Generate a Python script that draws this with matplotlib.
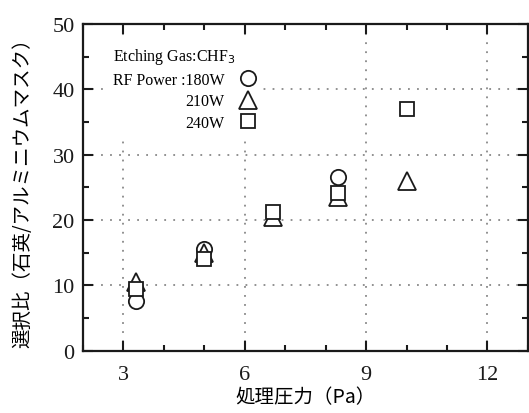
import matplotlib
matplotlib.use("Agg")
import matplotlib.pyplot as plt
from matplotlib.lines import Line2D
from matplotlib.ticker import MultipleLocator

# Process pressure (Pa) and etch selectivity (quartz / aluminium mask)
pressure = [3.3, 5.0, 6.7, 8.3, 10.0]
sel_180w = [7.6, 15.6, None, 26.6, None]
sel_210w = [10.5, 15.0, 20.5, 23.5, 26.0]
sel_240w = [9.4, 14.0, 21.2, 24.2, 37.0]

series = [
    ("RF Power :180W", "o", 11.0, sel_180w),
    ("210W", "^", 12.5, sel_210w),
    ("240W", "s", 10.5, sel_240w),
]

x_ticks = [3, 6, 9, 12]
y_ticks = [0, 10, 20, 30, 40, 50]

serif = "Liberation Serif"
cjk = ["Noto Sans CJK JP", "DejaVu Sans"]
ink = "#1a1a1a"

fig = plt.figure(figsize=(5.29, 4.14), dpi=100)
ax = fig.add_axes([0.157, 0.150, 0.841, 0.790])

for z, (label, marker, ms, values) in enumerate(series):
    xs = [p for p, v in zip(pressure, values) if v is not None]
    ys = [v for v in values if v is not None]
    ax.plot(xs, ys, linestyle="none", marker=marker, ms=ms, mew=1.3,
            mfc="white", mec=ink, zorder=3 + z)

ax.set_xlim(2, 13)
ax.set_ylim(0, 50)
ax.set_xticks(x_ticks)
ax.set_yticks(y_ticks)
ax.xaxis.set_minor_locator(MultipleLocator(1))
ax.yaxis.set_minor_locator(MultipleLocator(5))
ax.tick_params(which="both", direction="in", top=True, right=True,
               width=1.5, colors=ink)
ax.tick_params(which="major", length=7, labelsize=16)
ax.tick_params(which="minor", length=4)
ax.tick_params(axis="x", which="major", pad=10)
ax.tick_params(axis="y", which="major", pad=6)
for lab in ax.get_xticklabels() + ax.get_yticklabels():
    lab.set_fontfamily(serif)

for s in ax.spines.values():
    s.set_linewidth(1.6)
    s.set_color(ink)

ax.grid(True, which="major", linestyle=(0, (1, 4)), color="#888888",
        linewidth=1.3, zorder=1)
ax.set_axisbelow(True)

ax.set_xlabel("処理圧力（Pa）", family=cjk, fontsize=14, labelpad=2)
ax.set_ylabel("選択比（石英/アルミニウムマスク）", family=cjk, fontsize=14,
              labelpad=14)

handles = [Line2D([], [], linestyle="none", marker=m, ms=ms, mew=1.3,
                  mfc="white", mec=ink) for _, m, ms, _ in series]
leg = ax.legend(handles, [s[0] for s in series],
                title="Etching Gas:CHF$_3$", loc="lower left",
                bbox_to_anchor=(0.056, 0.658), markerfirst=False,
                prop={"family": serif, "size": 11.5},
                title_fontproperties={"family": serif, "size": 11.5},
                alignment="left", frameon=True, fancybox=False,
                edgecolor="none", facecolor="white", framealpha=1,
                handlelength=1.0, handletextpad=1.0, labelspacing=0.35,
                borderpad=0.3, borderaxespad=0.0)
leg.set_zorder(2)

fig.savefig("out.png", dpi=100)
